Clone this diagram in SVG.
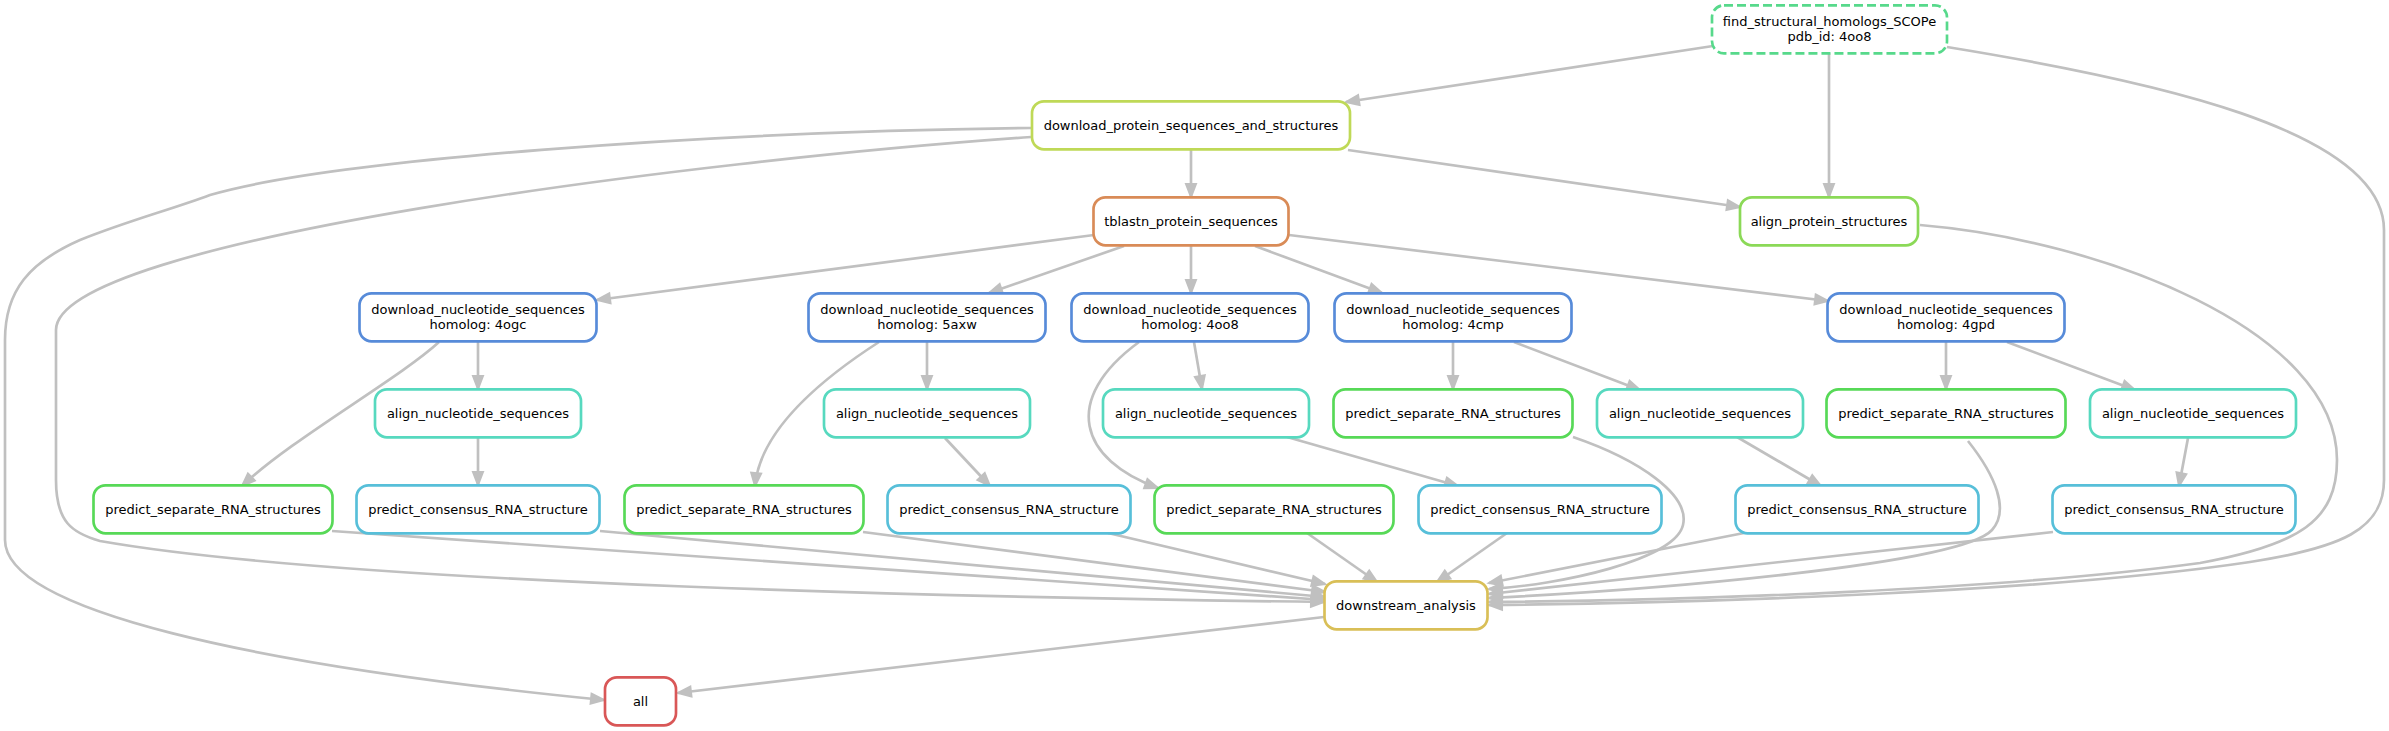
<svg xmlns="http://www.w3.org/2000/svg" width="2389" height="731" viewBox="0 0 2389 731">
<style>
.n rect{fill:#fff;stroke-width:2.67}
text{font-family:"DejaVu Sans",sans-serif;font-size:13px;text-anchor:middle;fill:#000}
.e path{fill:none;stroke:#c0c0c0;stroke-width:2.67;marker-end:url(#a)}
.dn rect{stroke:#578bd9}.an rect{stroke:#57d9bf}.ps rect{stroke:#57d957}.pc rect{stroke:#57bfd9}
</style>
<defs>
<marker id="a" markerUnits="userSpaceOnUse" markerWidth="20" markerHeight="20" refX="13" refY="5" orient="auto" overflow="visible"><path d="M0,0 L13,5 L0,10 z" fill="#c0c0c0" stroke="#c0c0c0" stroke-width="2"/></marker>
</defs>
<rect width="2389" height="731" fill="#fff"/>
<g id="edges" class="e">
<path d="M1713,46 L1346,102"/>
<path d="M1829,53 L1829,197"/>
<path d="M1947,47 C2150,80 2384,130 2384,230 L2384,480 C2384,530 2340,548 2250,562 C2050,592 1700,603 1489,605"/>
<path d="M1191,150 L1191,197"/>
<path d="M1348,150 L1740,207"/>
<path d="M1031,137 C700,160 56,240 56,330 L56,480 C56,522 72,533 100,541 C350,585 1000,598 1324,602"/>
<path d="M1031,128 C700,132 330,160 210,195 C170,210 130,220 80,240 C30,262 5,290 5,340 L5,540 C5,610 250,665 604,700"/>
<path d="M1094,235 L597,300"/>
<path d="M1124,246 L989,293"/>
<path d="M1191,246 L1191,293"/>
<path d="M1255,246 L1382,293"/>
<path d="M1289,235 L1828,301"/>
<path d="M478,342 L478,389"/>
<path d="M439,342 C400,378 290,440 242,486"/>
<path d="M478,438 L478,485"/>
<path d="M927,342 L927,389"/>
<path d="M879,342 C820,380 760,430 755,486"/>
<path d="M945,438 L990,486"/>
<path d="M1194,342 L1202,389"/>
<path d="M1139,342 C1060,400 1080,460 1158,488"/>
<path d="M1287,437 L1458,486"/>
<path d="M1453,342 L1453,389"/>
<path d="M1514,342 L1640,390"/>
<path d="M1737,437 L1821,486"/>
<path d="M1946,342 L1946,389"/>
<path d="M2007,342 L2135,390"/>
<path d="M2188,438 L2179,486"/>
<path d="M332,531 L1325,600"/>
<path d="M600,531 L1325,597"/>
<path d="M863,532 L1325,592"/>
<path d="M1108,533 L1325,584"/>
<path d="M1307,533 L1377,582"/>
<path d="M1507,533 L1437,582"/>
<path d="M1744,533 L1489,583"/>
<path d="M1573,437 C1640,460 1690,495 1683,525 C1675,560 1560,585 1489,589"/>
<path d="M2053,532 L1489,594"/>
<path d="M1968,441 C1995,475 2010,510 1992,530 C1960,565 1650,590 1489,598"/>
<path d="M1920,225 C2100,240 2337,330 2337,460 C2337,520 2300,545 2200,563 C2000,590 1700,600 1489,602"/>
<path d="M1324,617 L678,693"/>
</g>
<g id="find" class="n"><rect x="1712" y="5.3" width="235" height="48" rx="12" stroke="#57d98b" stroke-dasharray="9,4"/><text x="1829.5" y="25.5">find_structural_homologs_SCOPe</text><text x="1829.5" y="40.5">pdb_id: 4oo8</text></g>
<g id="download_protein" class="n"><rect x="1032" y="101.3" width="318" height="48" rx="12" stroke="#bfd957"/><text x="1191" y="129.5">download_protein_sequences_and_structures</text></g>
<g id="tblastn" class="n"><rect x="1093.5" y="197.3" width="195" height="48" rx="12" stroke="#d98b57"/><text x="1191" y="225.5">tblastn_protein_sequences</text></g>
<g id="align_protein" class="n"><rect x="1740" y="197.3" width="178" height="48" rx="12" stroke="#8bd957"/><text x="1829" y="225.5">align_protein_structures</text></g>
<g id="dn_4ogc" class="n dn"><rect x="359.5" y="293.3" width="237" height="48" rx="12"/><text x="478" y="313.5">download_nucleotide_sequences</text><text x="478" y="328.5">homolog: 4ogc</text></g>
<g id="dn_5axw" class="n dn"><rect x="808.5" y="293.3" width="237" height="48" rx="12"/><text x="927" y="313.5">download_nucleotide_sequences</text><text x="927" y="328.5">homolog: 5axw</text></g>
<g id="dn_4oo8" class="n dn"><rect x="1071.5" y="293.3" width="237" height="48" rx="12"/><text x="1190" y="313.5">download_nucleotide_sequences</text><text x="1190" y="328.5">homolog: 4oo8</text></g>
<g id="dn_4cmp" class="n dn"><rect x="1334.5" y="293.3" width="237" height="48" rx="12"/><text x="1453" y="313.5">download_nucleotide_sequences</text><text x="1453" y="328.5">homolog: 4cmp</text></g>
<g id="dn_4gpd" class="n dn"><rect x="1827.5" y="293.3" width="237" height="48" rx="12"/><text x="1946" y="313.5">download_nucleotide_sequences</text><text x="1946" y="328.5">homolog: 4gpd</text></g>
<g id="an_4ogc" class="n an"><rect x="375" y="389.3" width="206" height="48" rx="12"/><text x="478" y="417.5">align_nucleotide_sequences</text></g>
<g id="an_5axw" class="n an"><rect x="824" y="389.3" width="206" height="48" rx="12"/><text x="927" y="417.5">align_nucleotide_sequences</text></g>
<g id="an_4oo8" class="n an"><rect x="1103" y="389.3" width="206" height="48" rx="12"/><text x="1206" y="417.5">align_nucleotide_sequences</text></g>
<g id="ps_4cmp" class="n ps"><rect x="1333.5" y="389.3" width="239" height="48" rx="12"/><text x="1453" y="417.5">predict_separate_RNA_structures</text></g>
<g id="an_4cmp" class="n an"><rect x="1597" y="389.3" width="206" height="48" rx="12"/><text x="1700" y="417.5">align_nucleotide_sequences</text></g>
<g id="ps_4gpd" class="n ps"><rect x="1826.5" y="389.3" width="239" height="48" rx="12"/><text x="1946" y="417.5">predict_separate_RNA_structures</text></g>
<g id="an_4gpd" class="n an"><rect x="2090" y="389.3" width="206" height="48" rx="12"/><text x="2193" y="417.5">align_nucleotide_sequences</text></g>
<g id="ps_4ogc" class="n ps"><rect x="93.5" y="485.3" width="239" height="48" rx="12"/><text x="213" y="513.5">predict_separate_RNA_structures</text></g>
<g id="pc_4ogc" class="n pc"><rect x="356.5" y="485.3" width="243" height="48" rx="12"/><text x="478" y="513.5">predict_consensus_RNA_structure</text></g>
<g id="ps_5axw" class="n ps"><rect x="624.5" y="485.3" width="239" height="48" rx="12"/><text x="744" y="513.5">predict_separate_RNA_structures</text></g>
<g id="pc_5axw" class="n pc"><rect x="887.5" y="485.3" width="243" height="48" rx="12"/><text x="1009" y="513.5">predict_consensus_RNA_structure</text></g>
<g id="ps_4oo8" class="n ps"><rect x="1154.5" y="485.3" width="239" height="48" rx="12"/><text x="1274" y="513.5">predict_separate_RNA_structures</text></g>
<g id="pc_4oo8" class="n pc"><rect x="1418.5" y="485.3" width="243" height="48" rx="12"/><text x="1540" y="513.5">predict_consensus_RNA_structure</text></g>
<g id="pc_4cmp" class="n pc"><rect x="1735.5" y="485.3" width="243" height="48" rx="12"/><text x="1857" y="513.5">predict_consensus_RNA_structure</text></g>
<g id="pc_4gpd" class="n pc"><rect x="2052.5" y="485.3" width="243" height="48" rx="12"/><text x="2174" y="513.5">predict_consensus_RNA_structure</text></g>
<g id="downstream" class="n"><rect x="1324.5" y="581.3" width="163" height="48" rx="12" stroke="#d9bf57"/><text x="1406" y="609.5">downstream_analysis</text></g>
<g id="all" class="n"><rect x="605" y="677.3" width="71" height="48" rx="12" stroke="#d95757"/><text x="640.5" y="705.5">all</text></g>
</svg>
